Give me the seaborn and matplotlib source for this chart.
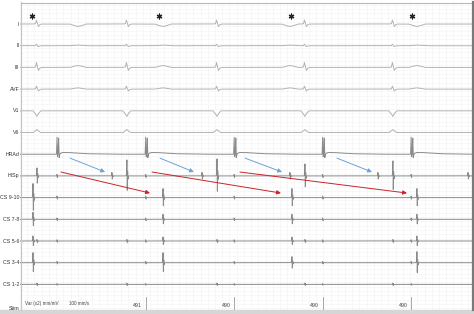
import numpy as np
import pandas as pd
import matplotlib
matplotlib.use("Agg")
import matplotlib.pyplot as plt
import matplotlib.transforms as mtransforms
from matplotlib.lines import Line2D
from matplotlib.patches import Rectangle
import seaborn as sns

channels = ["I", "II", "III", "AVF", "V1", "V6", "HRAd", "HISp",
            "CS 9-10", "CS 7-8", "CS 5-6", "CS 3-4", "CS 1-2", "Stim"]
qrs_ms = [94, 592, 1091, 1578, 2065]          # ventricular activation
stim_ms = [205, 696, 1186, 1676, 2166]        # HRA pacing stimuli
stim_labels = ["491", "490", "490", "490"]    # cycle length printed before stims 2..5
his_ms = [509, 1008, 1495, 1982, 2481]        # His deflections
cs_atrial_ms = [72, 792, 1506, 2198]          # CS atrial electrograms
p_wave_ms = [321, 792, 1495, 2198]            # surface P waves
star_ms = [66, 770, 1501, 2171]               # asterisks above lead I
red_start_ms = [227, 731, 1218]
red_end_ms = [720, 1445, 2143]
blue_start_ms = [277, 775, 1246, 1755]
blue_end_ms = [471, 963, 1451, 1949]

# amplitudes in screen pixels (up = positive)
his_v_amp = [8, 16, 17, 12, 15]
cs910_amp = [14, 9, 9, 9]
cs78_amp = [7, 5, 5, 5]
cs56_amp = [5, 4, 4, 5]
cs34_amp = [10, 10, 6, 11]

# ---------------- waveform shapes (normalised) ----------------
shapes = {
    "qrs":   ([-20, -8, -3, 2, 8, 14, 24, 40], [0, 0.1, 1, 0.2, -0.6, -0.2, 0, 0]),
    "pwave": ([-45, -22, 0, 22, 45], [0, 0.6, 1, 0.6, 0]),
    "v1":    ([-22, -10, 0, 10, 22], [0, -0.5, -1, -0.4, 0]),
    "v6":    ([-20, -8, 0, 8, 20], [0, 0.6, 1, 0.5, 0]),
    "hra":   ([-3, 0, 3, 6, 9, 12, 15, 20, 30, 60, 160, 320],
              [0, 1, -0.15, 0.1, 0.95, -0.2, 0, 0.06, 0.1, 0.1, 0.03, 0]),
    "sharp": ([-6, -2, 0, 2, 4, 6, 9, 14], [0, 0.1, 1, -0.9, 0.3, -0.2, 0, 0]),
    "tick":  ([-2, 0, 2, 4], [0, 1, -1, 0]),
}

def rep(v, n):
    return v if isinstance(v, list) else [v] * n

events = {
    "I":       [(qrs_ms, "qrs", 4), (p_wave_ms, "pwave", -2.5)],
    "II":      [(qrs_ms, "qrs", 1.5), (p_wave_ms, "pwave", 0.6)],
    "III":     [(qrs_ms, "qrs", 5), (p_wave_ms, "pwave", 2)],
    "AVF":     [(qrs_ms, "qrs", 3), (p_wave_ms, "pwave", 1.3)],
    "V1":      [(qrs_ms, "v1", 5.5)],
    "V6":      [(qrs_ms, "v6", 3)],
    "HRAd":    [(stim_ms, "hra", 17)],
    "HISp":    [(qrs_ms, "sharp", his_v_amp), (his_ms, "sharp", 3.5), (stim_ms, "tick", 1.5)],
    "CS 9-10": [(cs_atrial_ms, "sharp", cs910_amp), (stim_ms, "tick", 1.5)],
    "CS 7-8":  [(cs_atrial_ms, "sharp", cs78_amp), (stim_ms, "tick", 1.3)],
    "CS 5-6":  [(cs_atrial_ms, "sharp", cs56_amp), (qrs_ms, "sharp", 1.5), (stim_ms, "tick", 1.2)],
    "CS 3-4":  [(cs_atrial_ms, "sharp", cs34_amp), (stim_ms, "tick", 1.2)],
    "CS 1-2":  [(qrs_ms, "sharp", 1.2), (stim_ms, "tick", 0.8)],
}

# ---------------- geometry ----------------
W, H = 474, 314
PX_PER_ROW = 21.7
T_END = 2503
t = np.arange(0, T_END, 0.5)

rows = []
for i, ch in enumerate(channels[:-1]):
    trace = np.zeros_like(t)
    for times, shp, gain in events[ch]:
        st, sa = shapes[shp]
        for ev, g in zip(times, rep(gain, len(times))):
            trace += g * np.interp(t, np.array(st) + ev, sa, left=0, right=0)
    rows.append(pd.DataFrame({"time": t, "y": i - trace / PX_PER_ROW, "channel": ch}))
df = pd.concat(rows, ignore_index=True)

surface = ["I", "II", "III", "AVF", "V1", "V6"]
palette = {ch: ("#b3b3b3" if ch in surface else "#8a8a8a") for ch in channels[:-1]}

fig = plt.figure(figsize=(W / 100, H / 100), dpi=100)
fig.patch.set_facecolor("white")
ax = fig.add_axes([20 / W, 4 / H, 452 / W, 307 / H])
ax.set_xlim(0, T_END)
ax.set_ylim(13.18, -0.97)
ax.axis("off")

# faint ECG grid
for gx in np.arange(0, T_END, 40):
    ax.axvline(gx, color="#f2f2f2", lw=0.4, zorder=0)
for gy in np.arange(-0.9, 13.2, 0.2):
    ax.axhline(gy, color="#f4f4f4", lw=0.4, zorder=0)

sns.lineplot(data=df, x="time", y="y", hue="channel",
             palette=palette, estimator=None, sort=False, legend=False,
             linewidth=0.7, ax=ax, zorder=2)
ax.set_xlabel("")
ax.set_ylabel("")

# asterisks
sns.scatterplot(x=star_ms, y=[-0.37] * len(star_ms), marker=(6, 2, 0), s=12,
                color="#222222", linewidth=0.9, ax=ax, zorder=4, legend=False)

# arrows
for s, e in zip(red_start_ms, red_end_ms):
    ax.annotate("", xy=(e, 7.79), xytext=(s, 6.82),
                arrowprops=dict(arrowstyle="-|>", color="#c8242b", lw=0.7,
                                mutation_scale=6, shrinkA=0, shrinkB=0), zorder=5)
for s, e in zip(blue_start_ms, blue_end_ms):
    ax.annotate("", xy=(e, 6.82), xytext=(s, 6.18),
                arrowprops=dict(arrowstyle="-|>", color="#6fa3d3", lw=0.7,
                                mutation_scale=6, shrinkA=0, shrinkB=0), zorder=5)

# stim markers
for k, lab in enumerate(stim_labels):
    x = stim_ms[k + 1]
    ax.plot([x, x], [12.58, 13.18], color="#9a9a9a", lw=0.6, zorder=3)
    ax.text(x - 20, 12.98, lab, ha="right", va="center", fontsize=3.8,
            color="#444444", family="Liberation Sans")
ax.text(28, 12.88, "Var (x2) mm/mV", ha="left", va="center", fontsize=3.3,
        color="#444444", family="Liberation Sans")
ax.text(272, 12.88, "100 mm/s", ha="left", va="center", fontsize=3.3,
        color="#444444", family="Liberation Sans")

# channel labels
tr = mtransforms.blended_transform_factory(fig.transFigure, ax.transData)
for i, ch in enumerate(channels):
    ax.text(19.4 / W, i + (0.1 if ch == "Stim" else 0), ch, transform=tr, ha="right",
            va="center", fontsize=3.75, color="#333333", family="Liberation Sans")

# frame
fig.add_artist(Rectangle((0, 0), 1, 4 / H, transform=fig.transFigure,
                         color="#d6d6d6", zorder=0))
fig.add_artist(Line2D([20.5 / W, 20.5 / W], [4 / H, 1 - 2 / H], transform=fig.transFigure,
                      color="#c4c4c4", lw=0.8))
fig.add_artist(Line2D([20.5 / W, 472 / W], [1 - 2.5 / H, 1 - 2.5 / H], transform=fig.transFigure,
                      color="#b8b8b8", lw=0.8))
fig.add_artist(Line2D([472.5 / W, 472.5 / W], [4 / H, 1 - 2 / H], transform=fig.transFigure,
                      color="#7a7a7a", lw=1.6))

fig.savefig("out.png", dpi=100, facecolor="white")
